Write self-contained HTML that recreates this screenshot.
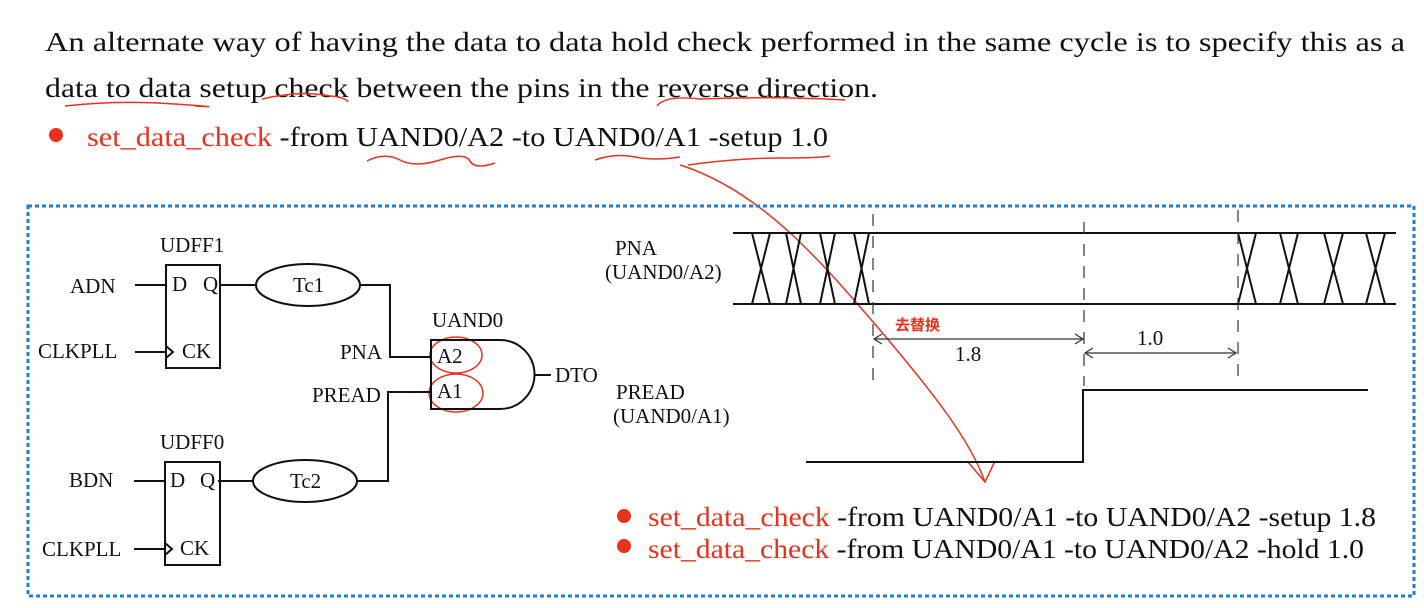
<!DOCTYPE html>
<html><head><meta charset="utf-8"><style>
html,body{margin:0;padding:0;background:#fff;}
svg{display:block;}
.t{font-family:"Liberation Serif",serif;fill:#111;}
.r{fill:#e8321e;}
</style></head><body>
<svg width="1424" height="608" viewBox="0 0 1424 608" xmlns="http://www.w3.org/2000/svg">
<text class="t" x="45" y="51" font-size="27" textLength="1360" lengthAdjust="spacingAndGlyphs">An alternate way of having the data to data hold check performed in the same cycle is to specify this as a</text>
<text class="t" x="45" y="97" font-size="27" textLength="833" lengthAdjust="spacingAndGlyphs">data to data setup check between the pins in the reverse direction.</text>
<circle cx="56" cy="135" r="7" fill="#e8321e"/>
<text class="t" x="87" y="146" font-size="27" textLength="741" lengthAdjust="spacingAndGlyphs"><tspan class="r">set_data_check</tspan> -from UAND0/A2 -to UAND0/A1 -setup 1.0</text>
<g fill="none" stroke="#e8321e" stroke-width="1.5">
<path d="M65 106 Q120 100 175 104 T195 106"/>
<path d="M262 99 Q300 90 330 96 Q345 97 348 102"/>
<path d="M657 106 Q665 95 700 99 Q780 96 845 100"/>
<path d="M367 161 Q385 152 400 160 T440 160 T470 161 T495 163"/>
<path d="M595 160 Q615 153 635 157 T680 157"/>
<path d="M688 165 Q740 158 780 158 T830 156"/>
<path d="M680 165 C760 190 820 260 880 330 C935 395 970 440 985 482"/>
<path d="M968 462 L985 482 L995 461"/>
<ellipse cx="456" cy="355" rx="26" ry="18"/>
<ellipse cx="456" cy="393" rx="27" ry="19"/>
</g>
<rect x="28" y="206" width="1386" height="390" fill="none" stroke="#1b7fd2" stroke-width="3" stroke-dasharray="4 3"/>
<g stroke="#111" stroke-width="2" fill="none">
<rect x="166" y="265" width="54" height="103"/>
<rect x="165" y="462" width="55" height="103"/>
<line x1="135" y1="285" x2="166" y2="285"/>
<line x1="135" y1="352" x2="166" y2="352"/>
<path d="M166 346 L173 352 L166 358"/>
<line x1="134" y1="481" x2="165" y2="481"/>
<line x1="134" y1="549" x2="165" y2="549"/>
<path d="M165 543 L172 549 L165 555"/>
<line x1="220" y1="285" x2="256" y2="285"/>
<ellipse cx="308" cy="285" rx="52" ry="21"/>
<path d="M360 285 L390 285 L390 357 L430 357"/>
<line x1="218" y1="481" x2="253" y2="481"/>
<ellipse cx="305" cy="481" rx="52" ry="21"/>
<path d="M357 481 L388 481 L388 392 L430 392"/>
<path d="M431 340 L500 340 A34 34 0 0 1 500 409 L431 409 Z"/>
<line x1="535" y1="375" x2="551" y2="375"/>
</g>
<g class="t" font-size="21">
<text x="160" y="252">UDFF1</text>
<text x="172" y="291">D</text><text x="203" y="291">Q</text>
<text x="182" y="358">CK</text>
<text x="70" y="293">ADN</text>
<text x="38" y="358">CLKPLL</text>
<text x="160" y="449">UDFF0</text>
<text x="170" y="487">D</text><text x="200" y="487">Q</text>
<text x="180" y="555">CK</text>
<text x="69" y="487">BDN</text>
<text x="42" y="556">CLKPLL</text>
<text x="293" y="292">Tc1</text>
<text x="290" y="488">Tc2</text>
<text x="432" y="327">UAND0</text>
<text x="437" y="363">A2</text>
<text x="437" y="398">A1</text>
<text x="340" y="359">PNA</text>
<text x="312" y="402">PREAD</text>
<text x="555" y="382">DTO</text>
<text x="615" y="255">PNA</text>
<text x="605" y="279">(UAND0/A2)</text>
<text x="616" y="399">PREAD</text>
<text x="613" y="423">(UAND0/A1)</text>
<text x="955" y="361">1.8</text>
<text x="1137" y="345">1.0</text>
</g>
<g stroke="#111" stroke-width="2" fill="none">
<line x1="733" y1="233" x2="1396" y2="233"/>
<line x1="733" y1="304" x2="1396" y2="304"/>
<path d="M752 233 L770 304 M770 233 L752 304 M786 233 L801 304 M801 233 L786 304 M820 233 L835 304 M835 233 L820 304 M854 233 L869 304 M869 233 L854 304"/>
<path d="M1238 233 L1256 304 M1256 233 L1238 304 M1280 233 L1298 304 M1298 233 L1280 304 M1324 233 L1343 304 M1343 233 L1324 304 M1366 233 L1385 304 M1385 233 L1366 304"/>
<path d="M806 462 L1083 462 L1083 390 L1368 390"/>
</g>
<g stroke="#333" stroke-width="1.2" fill="none">
<line x1="873" y1="214" x2="873" y2="386" stroke-dasharray="12 10"/>
<line x1="1084" y1="222" x2="1084" y2="386" stroke-dasharray="12 10"/>
<line x1="1238" y1="210" x2="1238" y2="386" stroke-dasharray="12 10"/>
<line x1="874" y1="339" x2="1083" y2="339"/>
<path d="M882 334 L874 339 L882 344 M1075 334 L1083 339 L1075 344"/>
<line x1="1085" y1="353" x2="1236" y2="353"/>
<path d="M1093 348 L1085 353 L1093 358 M1228 348 L1236 353 L1228 358"/>
</g>
<text x="895" y="330" font-family="'Liberation Sans','Noto Sans CJK SC',sans-serif" font-size="15" font-weight="bold" fill="#e8321e">去替换</text>
<circle cx="624" cy="516" r="7" fill="#e8321e"/>
<circle cx="624" cy="546" r="7" fill="#e8321e"/>
<text class="t" x="648" y="526" font-size="27" textLength="728" lengthAdjust="spacingAndGlyphs"><tspan class="r">set_data_check</tspan> -from UAND0/A1 -to UAND0/A2 -setup 1.8</text>
<text class="t" x="648" y="558" font-size="27" textLength="716" lengthAdjust="spacingAndGlyphs"><tspan class="r">set_data_check</tspan> -from UAND0/A1 -to UAND0/A2 -hold 1.0</text>
</svg>
</body></html>
